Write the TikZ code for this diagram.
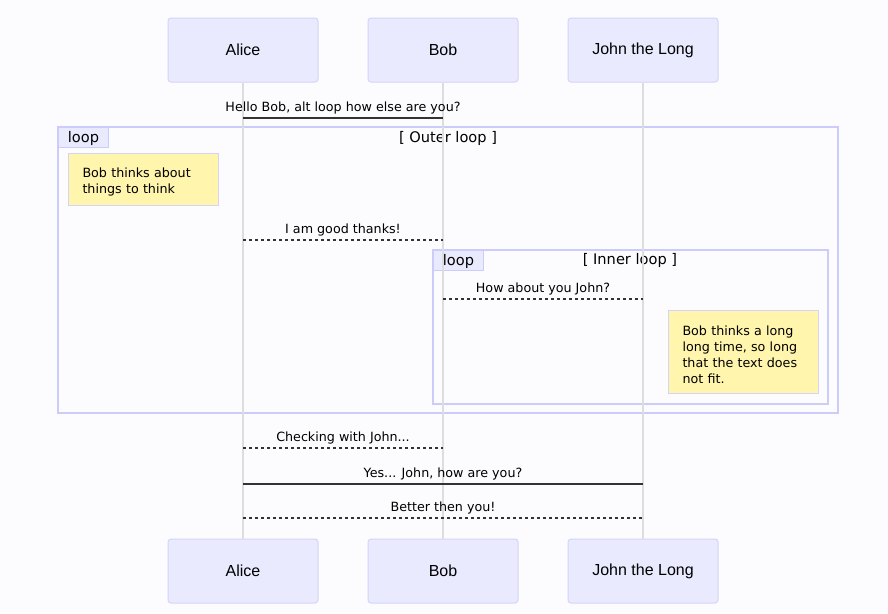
\documentclass[tikz,border=0pt]{standalone}
\usepackage{fontspec}
\setmainfont{Liberation Sans}
\newfontfamily\msgfont{DejaVu Sans}
\usepackage{xcolor}
\definecolor{pagebg}{HTML}{FCFCFF}
\definecolor{actorfill}{HTML}{EAEAFF}
\definecolor{actorline}{HTML}{D4D4FA}
\definecolor{frameline}{HTML}{CCCCFA}
\definecolor{lifegrey}{HTML}{DDDDDD}
\definecolor{notefill}{HTML}{FFF5AD}
\definecolor{msgline}{HTML}{333333}

\begin{document}
\begin{tikzpicture}[x=1pt, y=-1pt,
  actor/.style={draw=actorline, fill=actorfill, line width=1pt, rounded corners=3pt,
    minimum width=150pt, minimum height=64pt, font=\fontsize{16}{19}\selectfont},
  lifeline/.style={draw=lifegrey, line width=1.5pt},
  frame/.style={draw=frameline, line width=2pt},
  looptag/.style={draw=frameline, fill=actorfill, line width=1pt, anchor=north west,
    minimum width=50pt, minimum height=20pt, inner sep=0pt, text height=11pt, text depth=1.2pt,
    font=\msgfont\fontsize{14.6}{17}\selectfont},
  looptitle/.style={font=\msgfont\fontsize{14.6}{17}\selectfont},
  note/.style={draw=actorline, fill=notefill, line width=1pt, anchor=north west,
    text width=122pt, inner xsep=14pt, inner ysep=8pt, align=left,
    font=\msgfont\fontsize{12.7}{16}\selectfont},
  msg/.style={draw=msgline, line width=1.5pt},
  reply/.style={msg, dash pattern=on 3pt off 3pt},
  msgtext/.style={anchor=base, yshift=7pt, inner sep=0pt,
    font=\msgfont\fontsize{12.7}{15}\selectfont}]

\fill[pagebg] (0,0) rectangle (888,613);
\useasboundingbox (0,0) rectangle (888,613);

\draw[frame] (58,127) rectangle (838,413);
\node[looptag] (outertag) at (58,127) {loop};
\node[looptitle] (outertitle) at (448,138) {[ Outer loop ]};
\draw[frame] (433,250) rectangle (828,404);
\node[looptag] (innertag) at (433,250) {loop};
\node[looptitle] (innertitle) at (630,260) {[ Inner loop ]};

\node[actor] (alice) at (243,50) {Alice};
\node[actor] (bob) at (443,50) {Bob};
\node[actor] (john) at (643,50) {John the Long};
\node[actor] (aliceend) at (243,571) {Alice};
\node[actor] (bobend) at (443,571) {Bob};
\node[actor] (johnend) at (643,571) {John the Long};

\draw[lifeline] (alice) -- (aliceend);
\draw[lifeline] (bob) -- (bobend);
\draw[lifeline] (john) -- (johnend);

\node[note, minimum height=52pt] (thinkshort) at (68,153)
  {\rule{0pt}{14.4pt}Bob thinks about\\things to think};
\node[note, minimum height=83pt] (thinklong) at (668,310)
  {\rule{0pt}{14.4pt}Bob thinks a long\\long time, so long\\that the text does\\not fit.};

\coordinate (m1) at (0,118);
\coordinate (m2) at (0,240);
\coordinate (m3) at (0,299);
\coordinate (m4) at (0,448);
\coordinate (m5) at (0,484);
\coordinate (m6) at (0,518);

\draw[msg] (alice |- m1) -- node[msgtext] {Hello Bob, alt loop how else are you?} (bob |- m1);
\draw[reply] (alice |- m2) -- node[msgtext] {I am good thanks!} (bob |- m2);
\draw[reply] (bob |- m3) -- node[msgtext] {How about you John?} (john |- m3);
\draw[reply] (alice |- m4) -- node[msgtext] {Checking with John...} (bob |- m4);
\draw[msg] (alice |- m5) -- node[msgtext] {Yes... John, how are you?} (john |- m5);
\draw[reply] (alice |- m6) -- node[msgtext] {Better then you!} (john |- m6);
\end{tikzpicture}
\end{document}
